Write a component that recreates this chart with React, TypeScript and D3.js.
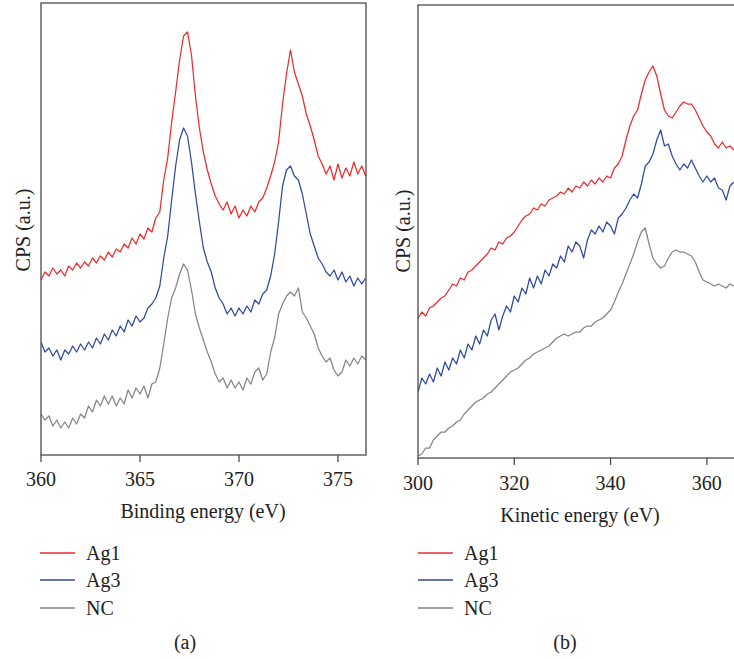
import React from "react";
import * as d3 from "d3";

// ---------- Data ----------
// Panel (a): Ag 3d XPS, binding energy grid 360 -> 376.4 eV, step 0.2 eV
const bindingStart = 360;
const bindingStep = 0.2;
const ag1Binding = [220,228,224,232,226,230,224,234,230,237, 232,238,234,242,237,244,240,248,243,251, 248,256,252,262,256,266,261,272,268,282, 288,320,342,378,408,440,464,468,445,404, 372,348,330,316,304,296,290,298,286,294, 282,290,284,294,288,298,302,312,324,338, 358,396,426,450,428,416,404,386,374,360, 344,336,326,334,320,336,322,332,324,338, 326,334,324];
const ag3Binding = [158,148,152,144,150,140,150,146,154,148, 156,150,158,152,162,156,166,160,170,164, 174,168,180,174,184,178,182,192,196,202, 214,242,264,300,334,360,372,364,338,306, 278,252,238,228,212,202,196,186,192,184, 192,186,194,188,200,196,206,210,224,246, 278,314,330,334,324,320,306,286,266,254, 242,236,228,224,230,220,228,218,224,214, 222,216,222];
const ncBinding = [86,80,84,74,80,72,78,72,82,76, 86,82,94,88,100,94,104,96,104,94, 102,96,110,102,112,106,114,102,116,118, 132,156,182,202,212,226,236,230,210,186, 172,160,148,138,126,118,122,112,120,112, 118,110,122,116,128,132,120,126,148,162, 186,196,204,208,204,212,188,182,174,166, 152,144,138,142,130,124,128,140,134,142, 136,144,140];

// Panel (b): Ag MNN Auger, kinetic energy grid 300 -> 365.6 eV, step 0.8 eV
const kineticStart = 300;
const kineticStep = 0.8;
const ag1Kinetic = [182,188,184,192,194,198,202,204,210,216, 214,222,220,228,230,234,238,242,246,252, 250,258,256,262,264,268,274,280,284,286, 292,290,296,294,300,302,304,308,306,312, 308,314,312,318,314,320,316,322,318,324, 322,332,336,344,360,374,384,390,406,420, 428,434,424,406,390,384,382,388,394,398, 396,396,390,382,374,368,364,356,352,358, 352,354,350];
const ag3Kinetic = [108,122,116,126,118,132,124,138,130,142, 136,150,142,156,150,164,156,170,164,180, 186,170,184,194,188,204,198,212,206,222, 212,224,216,230,224,236,232,244,238,254, 248,258,254,242,260,270,266,274,268,278, 274,266,282,286,292,300,306,302,316,334, 338,346,360,370,354,356,344,336,330,336, 332,340,332,324,318,324,318,322,312,310, 300,314,318];
const ncKinetic = [44,46,52,52,60,64,68,68,72,74, 78,80,86,90,94,98,100,102,106,108, 112,116,120,124,128,130,132,136,140,142, 146,148,150,152,154,158,162,164,166,164, 166,168,168,172,174,174,178,180,182,186, 190,198,208,216,226,236,246,258,268,272, 256,242,236,232,234,242,248,250,248,248, 246,244,238,228,220,218,216,214,216,214, 212,216,214];

const bindingTicks = [360, 365, 370, 375];
const kineticTicks = [300, 320, 340, 360];
const seriesNames = ["Ag1", "Ag3", "NC"];
const seriesColors = ["#ee2a2e", "#2f4aa0", "#858585"];

const FONT = "'Liberation Serif', 'DejaVu Serif', serif";
const AXIS = "#4a4a4a";

type PanelProps = {
  left: number; top: number; right: number; bottom: number;
  xDomain: [number, number]; xRangeRight: number;
  yDomain: [number, number];
  start: number; step: number;
  series: number[][];
  ticks: number[];
  tickLabelY: number;
  title: string; titleX: number; titleY: number;
  yLabelX: number; yLabelY: number;
  legendX: number; legendTextX: number;
  caption: string; captionX: number;
  clipId: string;
};

function Panel(p: PanelProps) {
  const x = d3.scaleLinear().domain(p.xDomain).range([p.left, p.xRangeRight]);
  const y = d3.scaleLinear().domain(p.yDomain).range([p.bottom, p.top]);
  const line = d3
    .line<number>()
    .x((_, i) => x(p.start + p.step * i))
    .y((d) => y(d));
  const legendYs = [553, 580, 608];
  return (
    <g>
      <defs>
        <clipPath id={p.clipId}>
          <rect x={p.left} y={p.top} width={p.right - p.left} height={p.bottom - p.top} />
        </clipPath>
      </defs>
      <g clipPath={`url(#${p.clipId})`}>
        {p.series.map((s, k) => (
          <path key={k} d={line(s) || ""} fill="none" stroke={seriesColors[k]} strokeWidth={1.25} strokeLinejoin="round" />
        ))}
      </g>
      <rect x={p.left} y={p.top} width={p.right - p.left} height={p.bottom - p.top} fill="none" stroke={AXIS} strokeWidth={1.3} />
      {p.ticks.map((t) => (
        <g key={t}>
          <line x1={x(t)} x2={x(t)} y1={p.bottom} y2={p.bottom + 7} stroke={AXIS} strokeWidth={1.3} />
          <text x={x(t)} y={p.tickLabelY} textAnchor="middle" fontFamily={FONT} fontSize={20} fill="#222">{t}</text>
        </g>
      ))}
      <text x={p.titleX} y={p.titleY} textAnchor="middle" fontFamily={FONT} fontSize={20} fill="#222">{p.title}</text>
      <text transform={`translate(${p.yLabelX},${p.yLabelY}) rotate(-90)`} textAnchor="middle" fontFamily={FONT} fontSize={20} fill="#222">CPS (a.u.)</text>
      {seriesNames.map((n, k) => (
        <g key={n}>
          <line x1={p.legendX} x2={p.legendX + 35} y1={legendYs[k]} y2={legendYs[k]} stroke={seriesColors[k]} strokeWidth={1.5} />
          <text x={p.legendTextX} y={legendYs[k] + 7} fontFamily={FONT} fontSize={20} fill="#222">{n}</text>
        </g>
      ))}
      <text x={p.captionX} y={649} textAnchor="middle" fontFamily={FONT} fontSize={20} fill="#222">{p.caption}</text>
    </g>
  );
}

export default function App() {
  return (
    <svg width={734} height={659} viewBox="0 0 734 659" style={{ position: "absolute", left: 0, top: 0, background: "#fff" }}>
      <rect x={0} y={0} width={734} height={659} fill="#fff" />
      <Panel
        left={41} top={3} right={366} bottom={455}
        xDomain={[360, 376.4]} xRangeRight={365.7}
        yDomain={[45, 497]}
        start={bindingStart} step={bindingStep}
        series={[ag1Binding, ag3Binding, ncBinding]}
        ticks={bindingTicks} tickLabelY={486}
        title="Binding energy (eV)" titleX={203} titleY={518}
        yLabelX={30} yLabelY={230}
        legendX={40} legendTextX={86}
        caption="(a)" captionX={185}
        clipId="clipA"
      />
      <Panel
        left={418} top={5} right={760} bottom={458}
        xDomain={[300, 370]} xRangeRight={755}
        yDomain={[42, 495]}
        start={kineticStart} step={kineticStep}
        series={[ag1Kinetic, ag3Kinetic, ncKinetic]}
        ticks={kineticTicks} tickLabelY={490}
        title="Kinetic energy (eV)" titleX={580} titleY={522}
        yLabelX={410} yLabelY={231}
        legendX={418} legendTextX={464}
        caption="(b)" captionX={565}
        clipId="clipB"
      />
    </svg>
  );
}
